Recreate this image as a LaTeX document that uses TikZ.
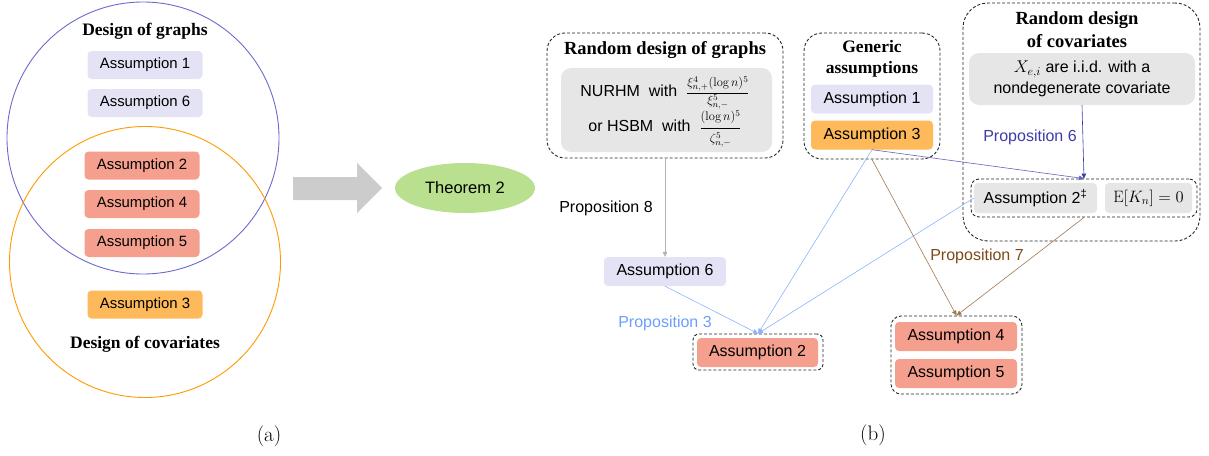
\documentclass[tikz,border=0pt]{standalone}
\usepackage{fix-cm}
\usepackage{amsmath}
\usepackage{fontspec}
\newfontfamily\sansf{Liberation Sans}
\newfontfamily\serifh{Liberation Serif}
\usetikzlibrary{arrows.meta,shapes.geometric}
\definecolor{lav}{HTML}{E4E3F5}
\definecolor{salmon}{HTML}{F5A08F}
\definecolor{orng}{HTML}{FDB95A}
\definecolor{greyb}{HTML}{E6E6E6}
\definecolor{thgreen}{HTML}{B8E08E}
\definecolor{bluecirc}{HTML}{6A6ACF}
\definecolor{orcirc}{HTML}{FF9900}
\definecolor{pblue}{HTML}{3C3CA8}
\definecolor{lblue}{HTML}{6B9EFF}
\definecolor{lbline}{HTML}{8AB4FF}
\definecolor{pbrown}{HTML}{7B4A17}
\definecolor{brline}{HTML}{A07850}
\definecolor{blockgrey}{HTML}{CCCCCC}
\newcommand{\fracfont}{\fontsize{12.5}{13}\selectfont}
\tikzset{
  lbox/.style={rounded corners=4pt, minimum width=115pt, minimum height=28pt, inner sep=0pt,
    font={\sansf\fontsize{14.9}{17}\selectfont}},
  rbox/.style={rounded corners=4pt, minimum width=122pt, minimum height=29pt, inner sep=0pt,
    font={\sansf\fontsize{16}{19}\selectfont}},
  hd/.style={inner sep=0pt, align=center, font={\serifh\bfseries\fontsize{17.5}{22}\selectfont}},
  lab/.style={inner sep=0pt, font={\sansf\fontsize{16}{19}\selectfont}},
  dbox/.style={draw=black!85, dash pattern=on 3pt off 2pt, line width=0.9pt, inner sep=0pt},
  conn/.style={line width=0.6pt, -{Triangle[length=5pt,width=4.5pt]}},
}
\begin{document}
\begin{tikzpicture}[x=1pt,y=-1pt]
\useasboundingbox (0,0) rectangle (1209,455);
% ---------- (a) ----------
\draw[bluecirc, line width=0.9pt] (143,138) circle[radius=136];
\draw[orcirc, line width=0.9pt] (145,262) circle[radius=135.5];
\node[hd] (dg) at (145,31) {Design of graphs};
\node[lbox, fill=lav] (la1) at (145,65) {Assumption 1};
\node[lbox, fill=lav] (la6) at (145,103) {Assumption 6};
\node[lbox, fill=salmon] (la2) at (142,165.5) {Assumption 2};
\node[lbox, fill=salmon] (la4) at (142,204) {Assumption 4};
\node[lbox, fill=salmon] (la5) at (142,243) {Assumption 5};
\node[lbox, fill=orng] (la3) at (145,304.5) {Assumption 3};
\node[hd] (dc) at (145,344) {Design of covariates};
\node[inner sep=0pt, font=\fontsize{21}{25}\selectfont] (capa) at (269,436) {(a)};
% block arrow
\fill[blockgrey] (293,177) -- (357,177) -- (357,163) -- (382,188) -- (357,213) -- (357,200) -- (293,200) -- cycle;
\node[ellipse, fill=thgreen, minimum width=140pt, minimum height=50pt, inner sep=0pt,
  font={\sansf\fontsize{16.5}{19}\selectfont}] (th) at (465,188) {Theorem 2};
% ---------- (b) ----------
% random design of graphs
\node[dbox, rounded corners=18pt, minimum width=236pt, minimum height=125pt] (rdg) at (665,95.5) {};
\node[hd, font={\serifh\bfseries\fontsize{18.5}{22}\selectfont}] (rdgt) at (665,50) {Random design of graphs};
\node[fill=greyb, rounded corners=10pt, minimum width=211pt, minimum height=84pt, inner sep=0pt] (nur) at (666.5,110) {};
\node[lab] (nur1) at (665,93) {NURHM\ \ with\ \ {\fracfont$\dfrac{\xi^4_{n,+}(\log n)^5}{\xi^5_{n,-}}$}};
\node[lab] (nur2) at (665,129) {or HSBM\ \ with\ \ {\fracfont$\genfrac{}{}{1.3pt}{0}{(\log n)^5}{\zeta^5_{n,-}}$}};
% generic
\node[dbox, rounded corners=18pt, minimum width=136pt, minimum height=126pt] (gen) at (872,96) {};
\node[hd, font={\serifh\bfseries\fontsize{17.5}{21}\selectfont}] (gent) at (872,58.5) {Generic\\assumptions};
\node[rbox, fill=lav] (ra1) at (872,99) {Assumption 1};
\node[rbox, fill=orng] (ra3) at (872,135) {Assumption 3};
% random design of covariates
\node[dbox, rounded corners=25pt, minimum width=237pt, minimum height=238pt] (cov) at (1081.5,122) {};
\node[hd, font={\serifh\bfseries\fontsize{18.5}{23}\selectfont}] (covt) at (1077,29.5) {Random design\\of covariates};
\node[fill=greyb, rounded corners=10pt, minimum width=226pt, minimum height=52pt, inner sep=0pt,
  align=center, font={\sansf\fontsize{16}{21}\selectfont}] (xei) at (1082,79) {{\fontsize{17}{21}\selectfont$X_{e,i}$} are i.i.d. with a\\nondegenerate covariate};
\node[dbox, rounded corners=8pt, minimum width=226pt, minimum height=38pt] (inner) at (1084,198) {};
\node[fill=greyb, rounded corners=4pt, minimum width=123pt, minimum height=30pt, inner sep=0pt,
  font={\sansf\fontsize{16}{19}\selectfont}] (a2d) at (1035.5,198) {Assumption 2\textsuperscript{‡}};
\node[fill=greyb, rounded corners=4pt, minimum width=87pt, minimum height=30pt, inner sep=0pt,
  font=\fontsize{16.5}{19}\selectfont] (ek) at (1148.5,198) {$\mathrm{E}[K_n]=0$};
% assumption 6
\node[rbox, fill=lav] (ra6) at (665,271.5) {Assumption 6};
% assumption 2 result
\node[dbox, rounded corners=6pt, minimum width=130pt, minimum height=36pt] (r2box) at (758,352) {};
\node[rbox, fill=salmon, minimum width=121pt] (ra2) at (757.5,352.5) {Assumption 2};
% assumptions 4 5
\node[dbox, rounded corners=10pt, minimum width=131pt, minimum height=78pt] (r45box) at (956.5,355) {};
\node[rbox, fill=salmon] (ra4) at (956,336.5) {Assumption 4};
\node[rbox, fill=salmon] (ra5) at (956,373.5) {Assumption 5};
% labels
\node[lab] (p8) at (606,208) {Proposition 8};
\node[lab, text=lblue] (p3) at (665,323) {Proposition 3};
\node[lab, text=pblue] (p6) at (1030,137) {Proposition 6};
\node[lab, text=pbrown] (p7) at (977,256) {Proposition 7};
\node[inner sep=0pt, font=\fontsize{21}{25}\selectfont] (capb) at (873,435) {(b)};
% connectors
\draw[conn, black!30] (rdg.south) -- (ra6.north);
\draw[conn, lbline] (ra6.south) -- (r2box.north);
\draw[conn, lbline] (ra3.south) -- (r2box.north);
\draw[conn, lbline] (a2d.west) -- (r2box.north);
\draw[conn, pblue!80] (ra3.south) -- (inner.north);
\draw[conn, pblue] (xei.south) -- (inner.north);
\draw[conn, brline] (gen.south) -- (r45box.north);
\draw[conn, brline] (inner.south) -- (r45box.north);
\end{tikzpicture}
\end{document}
